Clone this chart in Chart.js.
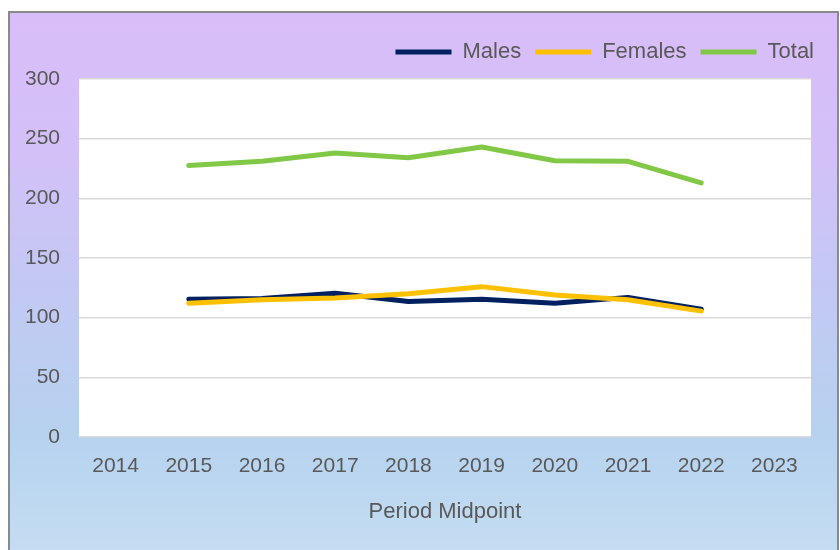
<!DOCTYPE html>
<html>
<head>
<meta charset="utf-8">
<script src="https://cdn.jsdelivr.net/npm/chart.js@4"></script>
<style>
  html, body { margin: 0; padding: 0; background: #fff; }
  #frame {
    position: absolute; left: 8px; top: 11px; width: 831px; height: 545px;
    box-sizing: border-box; border: 2px solid #8a8a8a;
    background: linear-gradient(to bottom, #d9bdf9 0%, #d3c0f8 25%, #c3c8f3 50%, #b6d2ef 78%, #c4ddf2 100%);
  }
  #wrap { position: absolute; left: 0; top: 0; width: 840px; height: 550px; }
</style>
</head>
<body>
<div id="frame"></div>
<div id="wrap"><canvas id="chart" width="840" height="550"></canvas></div>
<script>
// values
const years = ['2014', '2015', '2016', '2017', '2018', '2019', '2020', '2021', '2022', '2023'];
const males = [null, 115.5, 116, 120.5, 113.5, 115.5, 112, 117, 107, null];
const females = [null, 112, 115, 116.5, 120, 126, 119, 115, 105.5, null];
const total = [null, 227.5, 231, 238, 234, 243, 231.5, 231, 213, null];

const textColor = '#595959';
const family = "'Liberation Sans', Arial, sans-serif";

// white plot area behind the lines
const plotBg = {
  id: 'plotBg',
  beforeDraw(chart) {
    const { ctx, chartArea: a } = chart;
    ctx.save();
    ctx.fillStyle = '#ffffff';
    ctx.fillRect(a.left, a.top, a.right - a.left, a.bottom - a.top);
    ctx.restore();
  }
};

// nudge the legend: a bit further right and up than the layout puts it
const legendNudge = {
  id: 'legendNudge',
  afterLayout(chart) {
    const lg = chart.legend;
    lg.left += 17; lg.right += 17;
    lg.top -= 6; lg.bottom -= 6;
  }
};

// later series sit on top (like the original), so give them a lower order
function series(label, data, color, order) {
  return {
    label, data, order,
    borderColor: color,
    backgroundColor: color,
    borderWidth: 5,
    borderCapStyle: 'round',
    borderJoinStyle: 'round',
    pointRadius: 0,
    tension: 0,
    spanGaps: false
  };
}

new Chart(document.getElementById('chart'), {
  type: 'line',
  data: {
    labels: years,
    datasets: [
      series('Males', males, '#002060', 3),
      series('Females', females, '#ffc000', 2),
      series('Total', total, '#80c846', 1)
    ]
  },
  options: {
    responsive: false,
    animation: false,
    layout: { padding: { top: 33, right: 29, left: 0, bottom: 0 } },
    plugins: {
      tooltip: { enabled: false },
      legend: {
        position: 'top',
        align: 'end',
        labels: {
          color: textColor,
          font: { family, size: 22 },
          usePointStyle: true,
          pointStyle: 'line',
          pointStyleWidth: 56,
          boxHeight: 5,
          padding: 14,
          sort: (a, b) => a.datasetIndex - b.datasetIndex
        }
      }
    },
    scales: {
      x: {
        offset: true,
        grid: { display: false, drawTicks: false },
        border: { display: false },
        ticks: { color: textColor, font: { family, size: 21 }, padding: 17, maxRotation: 0 },
        title: {
          display: true,
          text: 'Period Midpoint',
          color: textColor,
          font: { family, size: 22 },
          padding: { top: 4, bottom: 25 }
        },
        afterFit(scale) { scale.height = 113; }
      },
      y: {
        min: 0,
        max: 300,
        ticks: { stepSize: 50, color: textColor, font: { family, size: 21 }, padding: 19 },
        grid: { color: '#d9d9d9', lineWidth: 1.5, drawTicks: false },
        border: { display: false },
        afterFit(scale) { scale.width = 79; }
      }
    }
  },
  plugins: [plotBg, legendNudge]
});
</script>
</body>
</html>
